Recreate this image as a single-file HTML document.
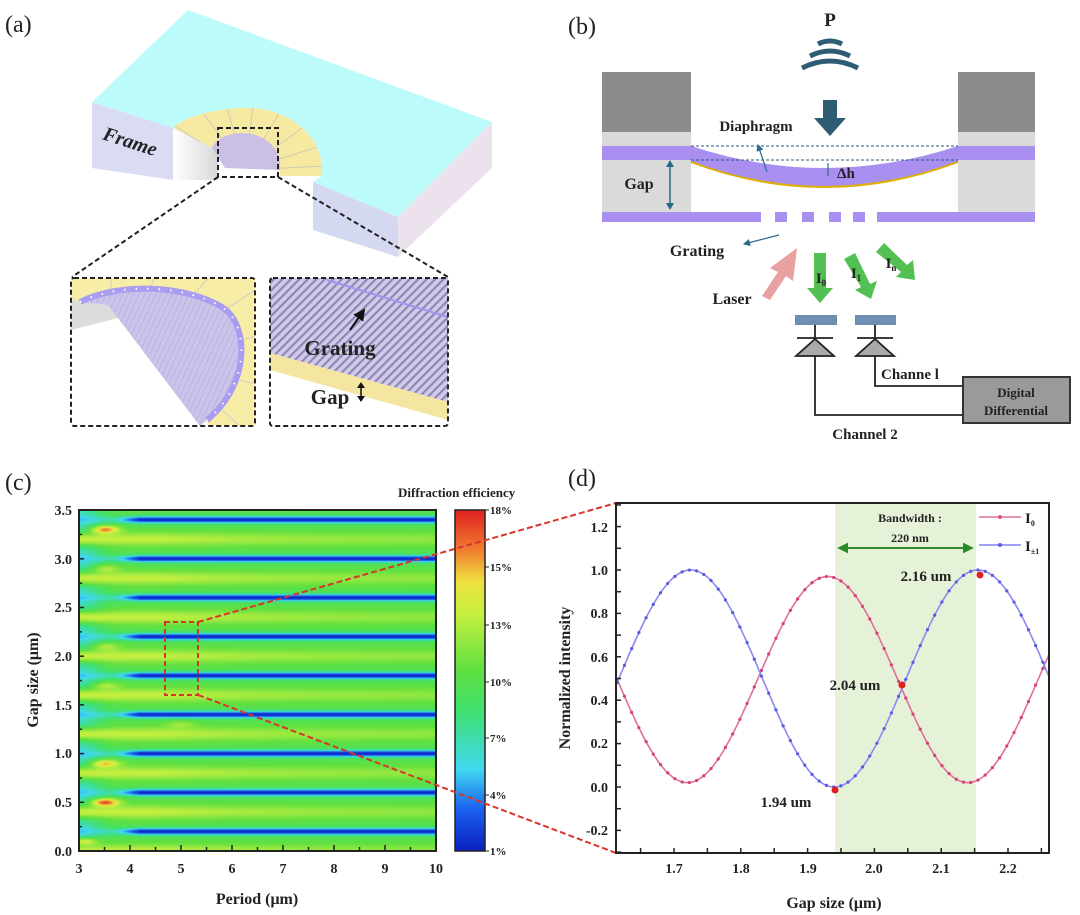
<!DOCTYPE html>
<html><head><meta charset="utf-8"><style>
html,body{margin:0;padding:0;background:#fff;width:1080px;height:915px;overflow:hidden}
#hm{position:absolute;left:79px;top:510px;z-index:0}
#svg{position:absolute;left:0;top:0;z-index:1}
text{font-family:"Liberation Serif",serif;font-weight:bold;fill:#222}
</style></head><body>
<canvas id="hm" width="357" height="341"></canvas>
<svg id="svg" width="1080" height="915" viewBox="0 0 1080 915" xmlns="http://www.w3.org/2000/svg">
<defs>
<pattern id="hatch" width="6" height="6" patternUnits="userSpaceOnUse" patternTransform="rotate(45)">
<rect width="6" height="6" fill="#d2cbe8"/><rect width="2.2" height="6" fill="#8f86b8"/></pattern>
<pattern id="vstripe" width="5" height="5" patternUnits="userSpaceOnUse" patternTransform="rotate(25)">
<rect width="5" height="5" fill="#cbc3ea"/><rect width="1" height="5" fill="#bdb4e0"/></pattern>
<linearGradient id="cb" x1="0" y1="1" x2="0" y2="0">
<stop offset="0" stop-color="#0a1fbf"/><stop offset="0.12" stop-color="#1a5ff0"/><stop offset="0.24" stop-color="#40d8f0"/>
<stop offset="0.41" stop-color="#40e070"/><stop offset="0.53" stop-color="#60e040"/><stop offset="0.70" stop-color="#c8f040"/>
<stop offset="0.79" stop-color="#f0e040"/><stop offset="0.88" stop-color="#f08030"/><stop offset="1" stop-color="#e02020"/></linearGradient>
<linearGradient id="hole" x1="0" y1="0" x2="1" y2="0"><stop offset="0" stop-color="#fff"/><stop offset="1" stop-color="#d8d8d8"/></linearGradient>
<clipPath id="ringclip"><path d="M173,128 C180,120 205,110 240,108 C280,105 325,130 322,176 L280,176 C282,145 260,132 240,133 C225,134 215,140 212,148 Z"/></clipPath>
<clipPath id="lin"><rect x="71" y="278" width="184" height="148"/></clipPath>
<clipPath id="rin"><rect x="270" y="278" width="178" height="148"/></clipPath>
<marker id="ah" markerWidth="6" markerHeight="6" refX="5" refY="3" orient="auto"><path d="M0,0 L6,3 L0,6 Z" fill="#2a6a8a"/></marker>
<marker id="ahg" markerWidth="6" markerHeight="6" refX="5" refY="3" orient="auto"><path d="M0,0 L6,3 L0,6 Z" fill="#2a8a2a"/></marker>
<marker id="ahk" markerWidth="6" markerHeight="6" refX="5" refY="3" orient="auto"><path d="M0,0 L6,3 L0,6 Z" fill="#111"/></marker>
</defs>

<!-- ===== (a) ===== -->
<text x="5" y="32" font-size="24" style="font-weight:normal">(a)</text>
<polygon points="92,102 173,128 173,180 92,168" fill="#d9dcf2"/>
<polygon points="313,182 398,217 398,257 313,230" fill="#d4d8f0"/>
<polygon points="398,217 492,122 492,168 398,257" fill="#ece2ee"/>
<path d="M173,128 L218,150 L218,180 L173,180 Z" fill="url(#hole)"/>
<path d="M188,10 L492,122 L398,217 L313,182 L322,176 C325,130 280,105 240,108 C205,110 180,120 173,128 L92,102 Z" fill="#bdfbfb"/>
<path d="M173,128 C180,120 205,110 240,108 C280,105 325,130 322,176 L280,176 C282,145 260,132 240,133 C225,134 215,140 212,148 Z" fill="#f6eaa2"/>
<g clip-path="url(#ringclip)" stroke="#cfcab8" stroke-width="1">
<line x1="245" y1="170" x2="165" y2="120"/><line x1="245" y1="170" x2="190" y2="95"/><line x1="245" y1="170" x2="222" y2="90"/>
<line x1="245" y1="170" x2="255" y2="90"/><line x1="245" y1="170" x2="290" y2="95"/><line x1="245" y1="170" x2="320" y2="115"/>
<line x1="245" y1="170" x2="340" y2="140"/><line x1="245" y1="170" x2="345" y2="165"/></g>
<path d="M212,148 C215,140 225,134 240,133 C260,132 282,145 280,170 L225,168 Z" fill="#cbbfe6"/>
<text x="130" y="148" font-size="20" transform="rotate(18 130 142)" text-anchor="middle" style="font-style:italic">Frame</text>
<rect x="218" y="128" width="60" height="49" fill="none" stroke="#222" stroke-width="2" stroke-dasharray="5,3"/>
<line x1="218" y1="177" x2="72" y2="277" stroke="#222" stroke-width="2" stroke-dasharray="5,3"/>
<line x1="278" y1="177" x2="448" y2="277" stroke="#222" stroke-width="2" stroke-dasharray="5,3"/>
<!-- left inset -->
<g clip-path="url(#lin)">
<rect x="71" y="278" width="184" height="148" fill="#f8eda6"/>
<g stroke="#d8d2c0" stroke-width="1.2"><line x1="110" y1="295" x2="112" y2="275"/><line x1="150" y1="290" x2="155" y2="275"/><line x1="195" y1="293" x2="210" y2="276"/><line x1="225" y1="310" x2="255" y2="290"/><line x1="242" y1="340" x2="260" y2="335"/><line x1="240" y1="380" x2="260" y2="385"/><line x1="222" y1="410" x2="240" y2="426"/></g>
<path d="M71,300 L110,305 L130,340 L71,345 Z" fill="#dcdcdc"/>
<path d="M71,330 L118,318 L210,426 L71,426 Z" fill="#fff"/>
<path d="M80,302 C120,282 185,285 222,307 C250,325 250,385 207,420 L200,426 L108,305 Z" fill="url(#vstripe)"/>
<path d="M80,302 C120,282 185,285 222,307 C250,325 250,385 207,420" fill="none" stroke="#a99cf2" stroke-width="6"/>
<path d="M80,302 C120,282 185,285 222,307 C250,325 250,385 207,420" fill="none" stroke="#fff" stroke-width="2" stroke-dasharray="1.5,10"/>
</g>
<rect x="71" y="278" width="184" height="148" rx="3" fill="none" stroke="#222" stroke-width="2" stroke-dasharray="5,3"/>
<!-- right inset -->
<g clip-path="url(#rin)">
<rect x="270" y="278" width="178" height="148" fill="#fff"/>
<path d="M270,278 L448,278 L448,402 L270,353 Z" fill="url(#hatch)"/>
<path d="M270,353 L448,402 L448,420 L270,370 Z" fill="#f4e6a0"/>
<line x1="327" y1="280" x2="448" y2="317" stroke="#9f95f0" stroke-width="2"/>
</g>
<rect x="270" y="278" width="178" height="148" rx="3" fill="none" stroke="#222" stroke-width="2" stroke-dasharray="5,3"/>
<line x1="350" y1="330" x2="364" y2="310" stroke="#111" stroke-width="2" marker-end="url(#ahk)"/>
<text x="340" y="355" font-size="21" text-anchor="middle">Grating</text>
<text x="330" y="404" font-size="21" text-anchor="middle">Gap</text>
<line x1="361" y1="386" x2="361" y2="400" stroke="#111" stroke-width="1.5"/>
<path d="M357,388 L361,382 L365,388 Z M357,396 L361,402 L365,396 Z" fill="#111"/>

<!-- ===== (b) ===== -->
<text x="568" y="34" font-size="24" style="font-weight:normal">(b)</text>
<text x="830" y="26" font-size="19" text-anchor="middle">P</text>
<g fill="none" stroke="#2e5c73" stroke-width="5">
<path d="M818,44 Q830,38 842,44"/><path d="M810,56 Q830,46 850,56"/><path d="M802,68 Q830,54 858,68"/></g>
<path d="M823,100 L837,100 L837,118 L846,118 L830,136 L814,118 L823,118 Z" fill="#2e5c73"/>
<rect x="602" y="72" width="89" height="60" fill="#8c8c8c"/><rect x="602" y="132" width="89" height="80" fill="#dadada"/>
<rect x="958" y="72" width="77" height="60" fill="#8c8c8c"/><rect x="958" y="132" width="77" height="80" fill="#dadada"/>
<rect x="602" y="146" width="89" height="14" fill="#a98ff0"/><rect x="958" y="146" width="77" height="14" fill="#a98ff0"/>
<path d="M691,146 Q824,190 958,146 L958,162 Q824,212 691,162 Z" fill="#a98ff0"/>
<path d="M691,162 Q824,212 958,162" fill="none" stroke="#e0b000" stroke-width="2"/>
<line x1="691" y1="146" x2="958" y2="146" stroke="#2a5a7a" stroke-width="1" stroke-dasharray="3,2"/>
<line x1="691" y1="160" x2="958" y2="160" stroke="#2a5a7a" stroke-width="1" stroke-dasharray="3,2"/>
<text x="756" y="131" font-size="15" text-anchor="middle">Diaphragm</text>
<line x1="767" y1="172" x2="758" y2="145" stroke="#2a6a8a" stroke-width="1.2" marker-end="url(#ah)"/>
<line x1="828" y1="163" x2="828" y2="176" stroke="#2a6a8a" stroke-width="1.2"/>
<text x="846" y="178" font-size="15" text-anchor="middle">Δh</text>
<text x="639" y="189" font-size="16" text-anchor="middle">Gap</text>
<line x1="670" y1="162" x2="670" y2="208" stroke="#2a6a8a" stroke-width="1.5"/>
<path d="M666,167 L670,160 L674,167 Z M666,203 L670,210 L674,203 Z" fill="#2a6a8a"/>
<rect x="602" y="212" width="159" height="10" fill="#a98ff0"/><rect x="877" y="212" width="158" height="10" fill="#a98ff0"/>
<rect x="775" y="212" width="12" height="10" fill="#a98ff0"/><rect x="802" y="212" width="12" height="10" fill="#a98ff0"/>
<rect x="829" y="212" width="12" height="10" fill="#a98ff0"/><rect x="853" y="212" width="12" height="10" fill="#a98ff0"/>
<text x="697" y="256" font-size="16" text-anchor="middle">Grating</text>
<line x1="779" y1="235" x2="744" y2="244" stroke="#2a6a8a" stroke-width="1.2" marker-end="url(#ah)"/>
<text x="732" y="304" font-size="16" text-anchor="middle">Laser</text>
<path d="M762,296 L778,272 L770,268 L797,248 L793,281 L786,276 L770,300 Z" fill="#e8a0a0"/>
<g fill="#52c052">
<path d="M814,253 L826,253 L826,288 L833,288 L820,303 L807,288 L814,288 Z"/>
<path d="M844,259 L855,253 L870,284 L877,281 L871,299 L855,290 L861,287 Z"/>
<path d="M876,252 L884,243 L907,265 L913,260 L915,280 L896,277 L901,272 Z"/></g>
<text x="821" y="283" font-size="15" text-anchor="middle">I<tspan font-size="9" dy="3">0</tspan></text>
<text x="856" y="278" font-size="15" text-anchor="middle">I<tspan font-size="9" dy="3">1</tspan></text>
<text x="891" y="268" font-size="15" text-anchor="middle">I<tspan font-size="9" dy="3">n</tspan></text>
<rect x="795" y="315" width="42" height="10" fill="#6d8fb2"/><rect x="855" y="315" width="41" height="10" fill="#6d8fb2"/>
<g stroke="#222" stroke-width="1.8" fill="#aaa">
<line x1="815" y1="325" x2="815" y2="338"/><line x1="875" y1="325" x2="875" y2="338"/>
<line x1="797" y1="338" x2="833" y2="338"/><line x1="857" y1="338" x2="893" y2="338"/>
<path d="M815,339 L796,356 L834,356 Z"/><path d="M875,339 L856,356 L894,356 Z"/>
<polyline points="815,356 815,415 963,415" fill="none"/><polyline points="875,356 875,386 963,386" fill="none"/></g>
<rect x="963" y="377" width="107" height="46" fill="#9a9a9a" stroke="#333" stroke-width="2"/>
<text x="1016" y="397" font-size="13" text-anchor="middle">Digital</text>
<text x="1016" y="415" font-size="13" text-anchor="middle">Differential</text>
<text x="881" y="379" font-size="15">Channe l</text>
<text x="865" y="439" font-size="15" text-anchor="middle">Channel 2</text>

<!-- ===== (c) ===== -->
<text x="5" y="490" font-size="24" style="font-weight:normal">(c)</text>
<rect x="79" y="510" width="357" height="341" fill="none" stroke="#222" stroke-width="2"/>
<g id="cticks" stroke="#222" stroke-width="1.5"></g>
<g font-size="14" text-anchor="end">
<text x="72" y="515">3.5</text><text x="72" y="564">3.0</text><text x="72" y="612">2.5</text><text x="72" y="661">2.0</text>
<text x="72" y="710">1.5</text><text x="72" y="758">1.0</text><text x="72" y="807">0.5</text><text x="72" y="856">0.0</text></g>
<g font-size="14" text-anchor="middle">
<text x="79" y="873">3</text><text x="130" y="873">4</text><text x="181" y="873">5</text><text x="232" y="873">6</text>
<text x="283" y="873">7</text><text x="334" y="873">8</text><text x="385" y="873">9</text><text x="436" y="873">10</text></g>
<text x="257" y="904" font-size="16" text-anchor="middle">Period (μm)</text>
<text x="38" y="680" font-size="16" text-anchor="middle" transform="rotate(-90 38 680)">Gap size (μm)</text>
<rect x="455" y="510" width="30" height="341" fill="url(#cb)" stroke="#222" stroke-width="1.5"/>
<text x="398" y="497" font-size="13">Diffraction efficiency</text>
<g font-size="11"><text x="490" y="514">18%</text><text x="490" y="571">15%</text><text x="490" y="629">13%</text><text x="490" y="686">10%</text>
<text x="490" y="742">7%</text><text x="490" y="799">4%</text><text x="490" y="855">1%</text></g>
<g stroke="#222"><line x1="485" y1="510" x2="489" y2="510"/><line x1="485" y1="567" x2="489" y2="567"/><line x1="485" y1="625" x2="489" y2="625"/><line x1="485" y1="682" x2="489" y2="682"/><line x1="485" y1="738" x2="489" y2="738"/><line x1="485" y1="795" x2="489" y2="795"/><line x1="485" y1="851" x2="489" y2="851"/></g>
<rect x="165" y="622" width="33" height="73" fill="none" stroke="#d8352a" stroke-width="2" stroke-dasharray="5,3"/>
<line x1="198" y1="622" x2="616" y2="503" stroke="#d8352a" stroke-width="2" stroke-dasharray="6,3"/>
<line x1="198" y1="695" x2="616" y2="853" stroke="#d8352a" stroke-width="2" stroke-dasharray="6,3"/>

<!-- ===== (d) ===== -->
<text x="568" y="486" font-size="24" style="font-weight:normal">(d)</text>
<rect x="835" y="504" width="141" height="348" fill="#e6f2d8"/>
<g id="curves"></g>
<rect x="616" y="503" width="433" height="350" fill="none" stroke="#222" stroke-width="2"/>
<g id="dticks" stroke="#222" stroke-width="1.5"></g>
<g font-size="14" text-anchor="end">
<text x="608" y="532">1.2</text><text x="608" y="575">1.0</text><text x="608" y="618">0.8</text><text x="608" y="662">0.6</text>
<text x="608" y="705">0.4</text><text x="608" y="748">0.2</text><text x="608" y="792">0.0</text><text x="608" y="835">-0.2</text></g>
<g font-size="14" text-anchor="middle">
<text x="674" y="873">1.7</text><text x="741" y="873">1.8</text><text x="808" y="873">1.9</text><text x="874" y="873">2.0</text>
<text x="941" y="873">2.1</text><text x="1008" y="873">2.2</text></g>
<text x="834" y="908" font-size="16" text-anchor="middle">Gap size (μm)</text>
<text x="570" y="678" font-size="16" text-anchor="middle" transform="rotate(-90 570 678)">Normalized intensity</text>
<text x="910" y="522" font-size="12" text-anchor="middle">Bandwidth :</text>
<text x="910" y="542" font-size="12" text-anchor="middle">220 nm</text>
<line x1="839" y1="548" x2="972" y2="548" stroke="#2a8a2a" stroke-width="1.8" marker-end="url(#ahg)"/>
<line x1="972" y1="548" x2="839" y2="548" stroke="#2a8a2a" stroke-width="1.8" marker-end="url(#ahg)"/>
<line x1="979" y1="517" x2="1021" y2="517" stroke="#e070a0" stroke-width="1.5"/><circle cx="1000" cy="517" r="2" fill="#e05080"/>
<line x1="979" y1="545" x2="1021" y2="545" stroke="#8080f0" stroke-width="1.5"/><circle cx="1000" cy="545" r="2" fill="#6060e0"/>
<text x="1025" y="523" font-size="15">I<tspan font-size="8" dy="3">0</tspan></text>
<text x="1025" y="551" font-size="15">I<tspan font-size="8" dy="3">±1</tspan></text>
<text x="926" y="581" font-size="15" text-anchor="middle">2.16 um</text>
<text x="855" y="690" font-size="15" text-anchor="middle">2.04 um</text>
<text x="786" y="807" font-size="15" text-anchor="middle">1.94 um</text>
<g id="pts"></g>
</svg>
<script>
(function(){
var NS="http://www.w3.org/2000/svg";
function el(t,a,p){var e=document.createElementNS(NS,t);for(var k in a)e.setAttribute(k,a[k]);p.appendChild(e);return e;}
var stops=[[1,[10,31,191]],[3,[26,95,240]],[5,[64,216,240]],[8,[64,224,112]],[10,[96,224,64]],[13,[200,240,64]],[14.5,[240,224,64]],[16,[240,128,48]],[18,[224,32,32]]];
function cmap(v){if(v<=1)return stops[0][1];if(v>=18)return stops[stops.length-1][1];
for(var i=0;i<stops.length-1;i++){var a=stops[i],b=stops[i+1];if(v>=a[0]&&v<=b[0]){var f=(v-a[0])/(b[0]-a[0]);return [a[1][0]+(b[1][0]-a[1][0])*f,a[1][1]+(b[1][1]-a[1][1])*f,a[1][2]+(b[1][2]-a[1][2])*f];}}return stops[0][1];}
function val(p,g){
 var t=((g-0.2)/0.4)%1;if(t<0)t+=1;
 var d=Math.min(t,1-t)*0.4;
 var s=Math.min(1,Math.max(0.3,(p-3.4)/0.8));
 var band=Math.exp(-Math.pow(d/0.036,2))*s;
 var base=9.5+3.4*Math.exp(-Math.pow((t-0.5)/0.17,2))*(0.5+0.5*Math.exp(-Math.max(0,p-4.5)/2.5));
 base-=3.5*Math.exp(-Math.pow((p-3)/0.45,2))*(1-Math.exp(-Math.pow((t-0.5)/0.2,2)));
 var v=base*(1-band)+1.2*band;
 var hs=[[3.5,3.3,7],[3.5,0.5,8],[3.5,0.9,6],[3.1,0.1,6],[3.5,2.1,3],[3.5,2.9,3],[3.5,1.7,3],[5,1.3,2]];
 for(var i=0;i<hs.length;i++){v+=hs[i][2]*Math.exp(-Math.pow((p-hs[i][0])/0.28,2)-Math.pow((g-hs[i][1])/0.04,2));}
 return v;}
var c=document.getElementById('hm'),cx=c.getContext('2d'),W=c.width,H=c.height,img=cx.createImageData(W,H);
for(var j=0;j<H;j++){var g=3.5*(1-(j+0.5)/H);for(var i=0;i<W;i++){var p=3+7*(i+0.5)/W;var col=cmap(val(p,g));var k=(j*W+i)*4;img.data[k]=col[0];img.data[k+1]=col[1];img.data[k+2]=col[2];img.data[k+3]=255;}}
cx.putImageData(img,0,0);
var ct=document.getElementById('cticks');
for(var q=3;q<=10.01;q+=0.5){var xx=79+(q-3)*51;el('line',{x1:xx,y1:851,x2:xx,y2:(Math.abs(q%1)>0.1?847:845)},ct);}
for(var q2=0;q2<=3.51;q2+=0.25){var yy=851-q2*97.4;el('line',{x1:79,y1:yy,x2:(Math.abs(q2%0.5)>0.1?82:84),y2:yy},ct);}
var dt=document.getElementById('dticks');
for(var q3=1.65;q3<=2.26;q3+=0.05){var x3=674+(q3-1.7)*668;el('line',{x1:x3,y1:853,x2:x3,y2:848},dt);}
for(var q4=-0.3;q4<=1.31;q4+=0.1){var y4=787-q4*217;if(y4>503&&y4<853)el('line',{x1:616,y1:y4,x2:621,y2:y4},dt);}
var cg=document.getElementById('curves');
function gx(g){return 674+(g-1.7)*668;}function gy(v){return 787-v*217;}
function blue(g){return 0.5+0.5*Math.cos(2*Math.PI*(g-1.725)/0.43);}
function pink(g){return 0.495-0.475*Math.cos(2*Math.PI*(g-1.72)/0.42);}
[[pink,'#e0709a','#d8407a'],[blue,'#8a8af2','#5a5ae0']].forEach(function(f){
 var d='';for(var g=1.613;g<=2.2615;g+=0.002){d+=(d?'L':'M')+gx(g).toFixed(1)+','+gy(f[0](g)).toFixed(1);}
 el('path',{d:d,fill:'none',stroke:f[1],'stroke-width':1.6},cg);
 for(var g2=1.615;g2<=2.261;g2+=0.0108){el('circle',{cx:gx(g2),cy:gy(f[0](g2)),r:1.6,fill:f[2]},cg);}
});
var pt=document.getElementById('pts');
[[980,575],[902,685],[835,790]].forEach(function(a){el('circle',{cx:a[0],cy:a[1],r:3.5,fill:'#e02020'},pt);});
})();
</script>
</body></html>
